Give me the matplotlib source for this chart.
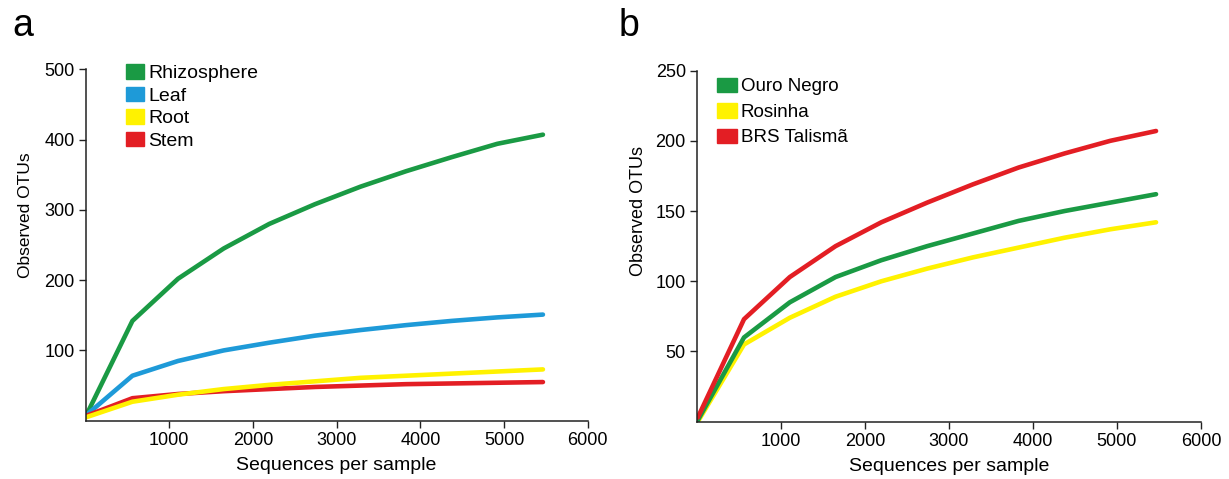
import matplotlib
matplotlib.use('Agg')
import matplotlib.pyplot as plt
from matplotlib.patches import Patch

plt.rcParams['font.family'] = ['Liberation Sans', 'DejaVu Sans']

# Rarefaction depths (sequences per sample)
depths = [10, 560, 1105, 1650, 2195, 2740, 3285, 3830, 4375, 4920, 5465]

# Panel a: plant compartments
rhizosphere = [8, 142, 202, 245, 280, 308, 333, 355, 375, 394, 407]
leaf = [8, 64, 85, 100, 111, 121, 129, 136, 142, 147, 151]
root = [5, 27, 37, 45, 51, 56, 61, 64, 67, 70, 73]
stem = [7, 32, 38, 42, 45, 48, 50, 52, 53, 54, 55]

# Panel b: cultivars
ouro_negro = [1, 60, 85, 103, 115, 125, 134, 143, 150, 156, 162]
rosinha = [0, 55, 74, 89, 100, 109, 117, 124, 131, 137, 142]
brs_talisma = [3, 73, 103, 125, 142, 156, 169, 181, 191, 200, 207]

green = '#1a9a44'
blue = '#1e9ad8'
yellow = '#fff200'
red = '#e31e24'

fig = plt.figure(figsize=(12.29, 4.79), dpi=100)
ax1 = fig.add_axes([0.0696, 0.1217, 0.4086, 0.7336])
ax2 = fig.add_axes([0.5671, 0.1196, 0.4101, 0.733])

lw = 3.3
ax1.plot(depths, rhizosphere, color=green, lw=lw, solid_capstyle='round')
ax1.plot(depths, leaf, color=blue, lw=lw, solid_capstyle='round')
ax1.plot(depths, stem, color=red, lw=lw, solid_capstyle='round')
ax1.plot(depths, root, color=yellow, lw=lw, solid_capstyle='round')

ax2.plot(depths, rosinha, color=yellow, lw=lw, solid_capstyle='round')
ax2.plot(depths, ouro_negro, color=green, lw=lw, solid_capstyle='round')
ax2.plot(depths, brs_talisma, color=red, lw=lw, solid_capstyle='round')

ax1.set_ylim(0, 500)
ax1.set_yticks([100, 200, 300, 400, 500])
ax2.set_ylim(0, 250)
ax2.set_yticks([50, 100, 150, 200, 250])

for ax in (ax1, ax2):
    ax.set_xlim(0, 6000)
    ax.set_xticks([1000, 2000, 3000, 4000, 5000, 6000])
    ax.spines['top'].set_visible(False)
    ax.spines['right'].set_visible(False)
    for s in ('left', 'bottom'):
        ax.spines[s].set_color('#222222')
        ax.spines[s].set_linewidth(1.1)
    ax.tick_params(direction='out', length=5, width=1, color='#222222',
                   labelsize=13, pad=3)
    ax.set_xlabel('Sequences per sample', fontsize=14, labelpad=6)

ax1.set_ylabel('Observed OTUs', fontsize=12.5, labelpad=8, y=0.584)
ax2.set_ylabel('Observed OTUs', fontsize=13, labelpad=6, y=0.6)

h1 = [Patch(color=green), Patch(color=blue), Patch(color=yellow), Patch(color=red)]
ax1.legend(h1, ['Rhizosphere', 'Leaf', 'Root', 'Stem'], loc='upper left',
           bbox_to_anchor=(0.081, 1.015), frameon=False, fontsize=14,
           handlelength=0.93, handleheight=0.78, handletextpad=0.2,
           labelspacing=0.23, borderaxespad=0, borderpad=0)

h2 = [Patch(color=green), Patch(color=yellow), Patch(color=red)]
ax2.legend(h2, ['Ouro Negro', 'Rosinha', 'BRS Talismã'], loc='upper left',
           bbox_to_anchor=(0.04, 0.98), frameon=False, fontsize=13.5,
           handlelength=1.05, handleheight=0.8, handletextpad=0.2,
           labelspacing=0.42, borderaxespad=0, borderpad=0)

fig.text(0.010, 0.925, 'a', fontsize=27)
fig.text(0.503, 0.925, 'b', fontsize=27)

fig.savefig('out.png', dpi=100)
